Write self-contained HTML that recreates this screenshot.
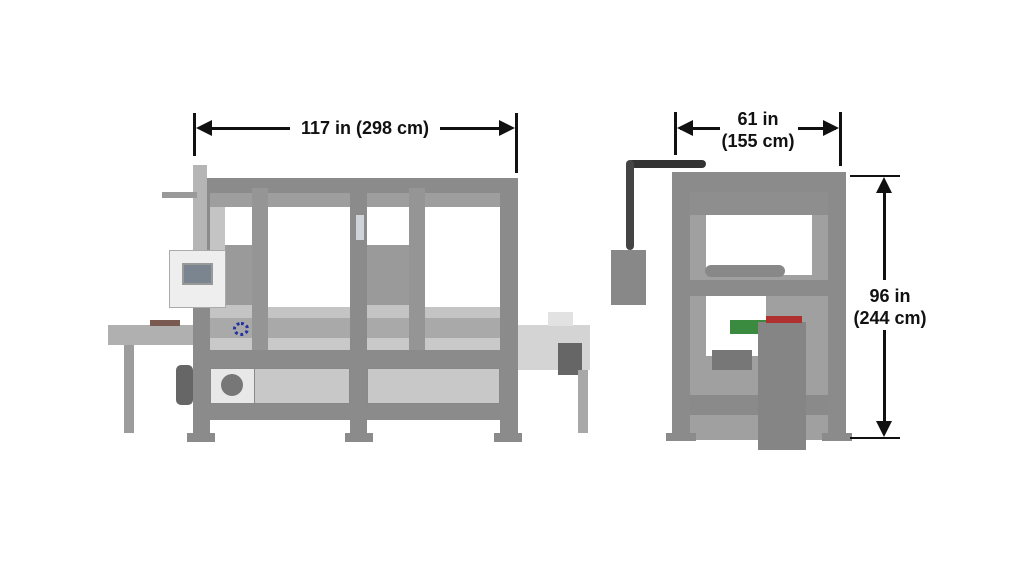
<!DOCTYPE html>
<html><head><style>
body{margin:0;width:1024px;height:576px;background:#fff;position:relative;overflow:hidden;font-family:"Liberation Sans",sans-serif}
div{position:absolute;box-sizing:border-box}
.f{background:#8b8b8b}
.l{background:#b9b9b9}
.k{background:#111}
.t{font-weight:bold;font-size:18px;color:#111;text-align:center;white-space:nowrap;line-height:21px}
</style></head><body>
<!-- LEFT MACHINE -->
<div style="left:210px;top:205px;width:290px;height:145px;background:#c4c4c4"></div>
<div style="left:268px;top:207px;width:82px;height:100px;background:#fff"></div>
<div style="left:367px;top:207px;width:42px;height:40px;background:#fff"></div>
<div style="left:425px;top:207px;width:75px;height:100px;background:#fff"></div>
<div style="left:225px;top:207px;width:27px;height:40px;background:#fff"></div>
<div style="left:225px;top:245px;width:27px;height:60px;background:#9a9a9a"></div>
<div style="left:367px;top:245px;width:42px;height:60px;background:#9a9a9a"></div>
<div style="left:210px;top:318px;width:290px;height:32px;background:#a9a9a9"></div>
<div style="left:210px;top:338px;width:290px;height:12px;background:#c9c9c9"></div>
<div class="f" style="left:193px;top:178px;width:325px;height:15px"></div>
<div style="left:210px;top:193px;width:290px;height:14px;background:#9e9e9e"></div>
<div class="f" style="left:193px;top:178px;width:17px;height:262px"></div>
<div style="left:252px;top:188px;width:16px;height:170px;background:#959595"></div>
<div class="f" style="left:350px;top:178px;width:17px;height:262px"></div>
<div style="left:356px;top:215px;width:8px;height:25px;background:#d0d4da"></div>
<div style="left:409px;top:188px;width:16px;height:170px;background:#959595"></div>
<div class="f" style="left:500px;top:178px;width:18px;height:262px"></div>
<div class="f" style="left:193px;top:350px;width:325px;height:18px"></div>
<div style="left:210px;top:368px;width:140px;height:36px;background:#c8c8c8;border:1px solid #888"></div>
<div style="left:367px;top:368px;width:133px;height:36px;background:#c8c8c8;border:1px solid #888"></div>
<div style="left:210px;top:368px;width:45px;height:36px;background:#e8e8e8;border:1px solid #888"></div>
<div style="left:221px;top:374px;width:22px;height:22px;border-radius:50%;background:#777"></div>
<div class="f" style="left:193px;top:404px;width:325px;height:16px"></div>
<div class="f" style="left:187px;top:433px;width:28px;height:9px"></div>
<div class="f" style="left:345px;top:433px;width:28px;height:9px"></div>
<div class="f" style="left:494px;top:433px;width:28px;height:9px"></div>
<div style="left:108px;top:325px;width:85px;height:20px;background:#b0b0b0"></div>
<div style="left:150px;top:320px;width:30px;height:6px;background:#7a5a50"></div>
<div style="left:124px;top:345px;width:10px;height:88px;background:#9c9c9c"></div>
<div style="left:518px;top:325px;width:72px;height:45px;background:#d4d4d4"></div>
<div style="left:548px;top:312px;width:25px;height:14px;background:#e2e2e2"></div>
<div style="left:558px;top:343px;width:24px;height:32px;background:#666"></div>
<div style="left:578px;top:370px;width:10px;height:63px;background:#a8a8a8"></div>
<div style="left:176px;top:365px;width:17px;height:40px;background:#666;border-radius:5px"></div>
<div style="left:193px;top:165px;width:14px;height:90px;background:#b5b5b5"></div>
<div style="left:162px;top:192px;width:35px;height:6px;background:#999"></div>
<div style="left:169px;top:250px;width:57px;height:58px;background:#eee;border:1px solid #aaa"></div>
<div style="left:182px;top:263px;width:31px;height:22px;background:#7a8590;border:2px solid #999"></div>
<div style="left:233px;top:322px;width:16px;height:14px;border:3px dotted #2230a0;border-radius:50%"></div>
<!-- RIGHT MACHINE -->
<div style="left:690px;top:192px;width:138px;height:248px;background:#a0a0a0"></div>
<div style="left:706px;top:215px;width:106px;height:60px;background:#fff"></div>
<div style="left:690px;top:192px;width:138px;height:23px;background:#8e8e8e"></div>
<div style="left:705px;top:265px;width:80px;height:12px;background:#888;border-radius:6px"></div>
<div style="left:706px;top:296px;width:60px;height:60px;background:#fff"></div>
<div style="left:712px;top:350px;width:40px;height:20px;background:#777"></div>
<div style="left:690px;top:395px;width:138px;height:20px;background:#8a8a8a"></div>
<div class="f" style="left:672px;top:172px;width:174px;height:20px"></div>
<div class="f" style="left:672px;top:172px;width:18px;height:268px"></div>
<div class="f" style="left:828px;top:172px;width:18px;height:268px"></div>
<div class="f" style="left:690px;top:280px;width:138px;height:16px"></div>
<div style="left:730px;top:320px;width:40px;height:14px;background:#3a8a40"></div>
<div style="left:758px;top:322px;width:48px;height:128px;background:#858585"></div>
<div style="left:766px;top:316px;width:36px;height:7px;background:#b03030"></div>
<div class="f" style="left:666px;top:433px;width:30px;height:8px"></div>
<div class="f" style="left:822px;top:433px;width:30px;height:8px"></div>
<div style="left:628px;top:160px;width:78px;height:8px;background:#333;border-radius:4px"></div>
<div style="left:626px;top:160px;width:8px;height:90px;background:#444;border-radius:4px"></div>
<div style="left:611px;top:250px;width:35px;height:55px;background:#888"></div>
<!-- DIMENSIONS -->
<div class="k" style="left:193px;top:113px;width:3px;height:43px"></div>
<div class="k" style="left:515px;top:113px;width:3px;height:60px"></div>
<div class="k" style="left:200px;top:127px;width:90px;height:3px"></div>
<div class="k" style="left:440px;top:127px;width:70px;height:3px"></div>
<svg style="position:absolute;left:0;top:0" width="1024" height="576">
<polygon points="196,128 212,120 212,136" fill="#111"/>
<polygon points="515,128 499,120 499,136" fill="#111"/>
<polygon points="677,128 693,120 693,136" fill="#111"/>
<polygon points="839,128 823,120 823,136" fill="#111"/>
<polygon points="884,177 876,193 892,193" fill="#111"/>
<polygon points="884,437 876,421 892,421" fill="#111"/>
</svg>
<div class="t" style="left:285px;top:118px;width:160px">117 in (298 cm)</div>
<div class="k" style="left:674px;top:112px;width:3px;height:43px"></div>
<div class="k" style="left:839px;top:112px;width:3px;height:54px"></div>
<div class="k" style="left:680px;top:127px;width:40px;height:3px"></div>
<div class="k" style="left:798px;top:127px;width:38px;height:3px"></div>
<div class="t" style="left:713px;top:109px;width:90px">61 in</div>
<div class="t" style="left:713px;top:131px;width:90px">(155 cm)</div>
<div class="k" style="left:850px;top:175px;width:50px;height:2px"></div>
<div class="k" style="left:850px;top:437px;width:50px;height:2px"></div>
<div class="k" style="left:883px;top:185px;width:3px;height:95px"></div>
<div class="k" style="left:883px;top:330px;width:3px;height:100px"></div>
<div class="t" style="left:840px;top:286px;width:100px">96 in</div>
<div class="t" style="left:840px;top:308px;width:100px">(244 cm)</div>
</body></html>
